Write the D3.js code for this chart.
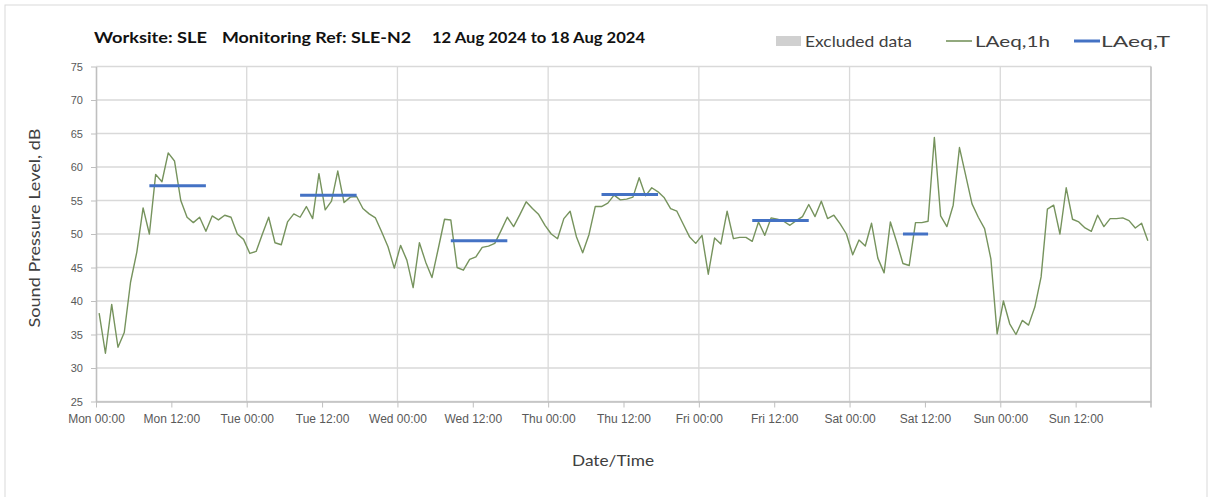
<!DOCTYPE html>
<html>
<head>
<meta charset="utf-8">
<script src="https://cdn.jsdelivr.net/npm/d3@7/dist/d3.min.js"></script>
<style>
  body { margin: 0; background: #fff; }
  svg { display: block; font-family: Lato, "Open Sans", sans-serif; }
</style>
</head>
<body>
<svg id="chart" width="1208" height="497"></svg>
<script>
// hourly LAeq,1h, Mon 12 Aug 00:00 .. Sun 18 Aug 23:00
const laeq1h = [
  38.2, 32.2, 39.5, 33.1, 35.3, 42.8, 47.3, 53.9, 50.0, 58.9, 57.8, 62.1,
  60.9, 55.0, 52.5, 51.7, 52.5, 50.4, 52.7, 52.1, 52.8, 52.5, 50.0, 49.2,
  47.1, 47.4, 50.0, 52.5, 48.7, 48.4, 51.8, 53.0, 52.5, 54.1, 52.3, 59.0,
  53.6, 54.9, 59.4, 54.7, 55.5, 55.6, 53.8, 53.0, 52.4, 50.3, 48.1, 44.9,
  48.3, 46.1, 42.0, 48.7, 45.8, 43.5, 47.8, 52.2, 52.1, 45.0, 44.6, 46.2,
  46.6, 48.0, 48.2, 48.6, 50.5, 52.5, 51.1, 52.9, 54.8, 53.8, 52.9, 51.3,
  50.0, 49.3, 52.3, 53.4, 49.6, 47.2, 49.9, 54.1, 54.1, 54.6, 55.8, 55.1,
  55.2, 55.5, 58.4, 55.7, 56.9, 56.3, 55.4, 53.8, 53.4, 51.5, 49.6, 48.6,
  49.8, 44.0, 49.4, 48.5, 53.4, 49.3, 49.5, 49.5, 48.9, 51.8, 49.8, 52.4,
  52.2, 51.9, 51.3, 52.0, 52.6, 54.4, 52.6, 54.9, 52.3, 52.8, 51.5, 50.0,
  46.9, 49.1, 48.2, 51.6, 46.4, 44.2, 51.8, 48.8, 45.6, 45.3, 51.7, 51.7,
  51.9, 64.4, 52.7, 51.1, 54.3, 62.9, 58.7, 54.5, 52.5, 50.8, 46.3, 35.1,
  40.0, 36.6, 35.0, 37.1, 36.4, 39.1, 43.6, 53.7, 54.3, 50.0, 56.9, 52.2,
  51.8, 50.9, 50.4, 52.8, 51.1, 52.3, 52.3, 52.4, 52.0, 50.9, 51.6, 49.0
];

// LAeq,T periods (day offset from Monday, start/end hour, level)
const periodDay = [0, 1, 2, 3, 4, 5];
const periodStart = [8, 8, 8, 8, 8, 8];
const periodEnd = [18, 18, 18, 18, 18, 13];
const laeqT = [57.2, 55.8, 49.0, 55.9, 52.0, 50.0];

const yTicks = [25, 30, 35, 40, 45, 50, 55, 60, 65, 70, 75];
const titleParts = ["Worksite: SLE", "Monitoring Ref: SLE-N2", "12 Aug 2024 to 18 Aug 2024"];
const legendLabels = ["Excluded data", "LAeq,1h", "LAeq,T"];

const start = new Date(2024, 7, 12, 0, 0);
const end = new Date(2024, 7, 19, 0, 0);
const hourAt = h => d3.timeMinute.offset(start, Math.round(h * 60));

const L = 96, R = 1151, T = 66.5, B = 401.5;
const svg = d3.select('#chart');

const x = d3.scaleTime().domain([start, end]).range([L, R]);
const y = d3.scaleLinear().domain([25, 75]).range([B, T]);

// outer frame
svg.append('rect').attr('x', 5).attr('y', 5).attr('width', 1202).attr('height', 500)
  .attr('fill', 'none').attr('stroke', '#d9d9d9');

// grid
const grid = svg.append('g');
grid.selectAll('line.h').data(yTicks).join('line')
  .attr('x1', L).attr('x2', R).attr('y1', d => y(d)).attr('y2', d => y(d))
  .attr('stroke', '#d9d9d9').attr('stroke-width', 1.3);
grid.selectAll('line.v').data(d3.timeDay.range(d3.timeDay.offset(start, 1), end)).join('line')
  .attr('x1', d => x(d)).attr('x2', d => x(d)).attr('y1', T).attr('y2', B)
  .attr('stroke', '#d9d9d9').attr('stroke-width', 1.3);

// axes
const xTickVals = d3.timeHour.every(12).range(start, end);
const xAxis = svg.append('g').attr('transform', `translate(0,${B})`)
  .call(d3.axisBottom(x).tickValues(xTickVals).tickFormat(d3.timeFormat('%a %H:%M'))
    .tickSize(6).tickSizeOuter(0));
xAxis.select('.domain').attr('stroke', '#bfbfbf').attr('stroke-width', 1.6);
xAxis.selectAll('.tick line').attr('stroke', '#bfbfbf');
xAxis.selectAll('.tick text').attr('y', 13).attr('fill', '#595959')
  .style('font-size', '12px');

const yAxis = svg.append('g').attr('transform', `translate(${L},0)`)
  .call(d3.axisLeft(y).tickValues(yTicks).tickSize(5).tickPadding(8).tickSizeOuter(0));
yAxis.select('.domain').attr('stroke', '#bfbfbf').attr('stroke-width', 1.6);
yAxis.selectAll('.tick line').attr('stroke', '#bfbfbf');
yAxis.selectAll('.tick text').attr('fill', '#595959').style('font-size', '11px');

// right border of plot area
svg.append('line').attr('x1', R).attr('x2', R).attr('y1', T).attr('y2', B + 6)
  .attr('stroke', '#bfbfbf').attr('stroke-width', 1.6);

// LAeq,1h line
const line = d3.line().x((d, i) => x(hourAt(i + 0.5))).y(d => y(d));
svg.append('path').datum(laeq1h).attr('d', line)
  .attr('fill', 'none').attr('stroke', '#76935d').attr('stroke-width', 1.4)
  .attr('stroke-linejoin', 'round');

// LAeq,T bars
svg.append('g').selectAll('line').data(laeqT).join('line')
  .attr('x1', (d, i) => x(hourAt(periodDay[i] * 24 + periodStart[i] + 0.5)))
  .attr('x2', (d, i) => x(hourAt(periodDay[i] * 24 + periodEnd[i] - 0.5)))
  .attr('y1', d => y(d)).attr('y2', d => y(d))
  .attr('stroke', '#4472c4').attr('stroke-width', 3);

// title
const titleX = [94, 222, 432];
const titleW = [113, 189, 213];
svg.append('g').selectAll('text').data(titleParts).join('text')
  .attr('x', (d, i) => titleX[i]).attr('y', 43)
  .attr('textLength', (d, i) => titleW[i]).attr('lengthAdjust', 'spacingAndGlyphs')
  .attr('font-weight', 'bold').attr('font-size', 15).attr('fill', '#111')
  .text(d => d);

// legend
const lg = svg.append('g');
lg.append('rect').attr('x', 776).attr('y', 36).attr('width', 25).attr('height', 10).attr('fill', '#d0d0d0');
lg.append('line').attr('x1', 946).attr('x2', 972).attr('y1', 41).attr('y2', 41)
  .attr('stroke', '#76935d').attr('stroke-width', 1.6);
lg.append('line').attr('x1', 1074).attr('x2', 1100).attr('y1', 41).attr('y2', 41)
  .attr('stroke', '#4472c4').attr('stroke-width', 3);
const legX = [805, 975, 1101];
const legW = [107, 75, 69];
lg.selectAll('text').data(legendLabels).join('text')
  .attr('x', (d, i) => legX[i]).attr('y', 46.5)
  .attr('textLength', (d, i) => legW[i]).attr('lengthAdjust', 'spacingAndGlyphs')
  .attr('font-size', 15).attr('fill', '#404040').text(d => d);

// axis titles
svg.append('text').attr('x', 613).attr('y', 466).attr('text-anchor', 'middle')
  .attr('font-size', 15).attr('fill', '#404040')
  .attr('textLength', 82).attr('lengthAdjust', 'spacingAndGlyphs')
  .text('Date/Time');
svg.append('text').attr('transform', 'translate(40,228) rotate(-90)')
  .attr('text-anchor', 'middle').attr('font-size', 15).attr('fill', '#404040')
  .attr('textLength', 199).attr('lengthAdjust', 'spacingAndGlyphs')
  .text('Sound Pressure Level, dB');
</script>
</body>
</html>
